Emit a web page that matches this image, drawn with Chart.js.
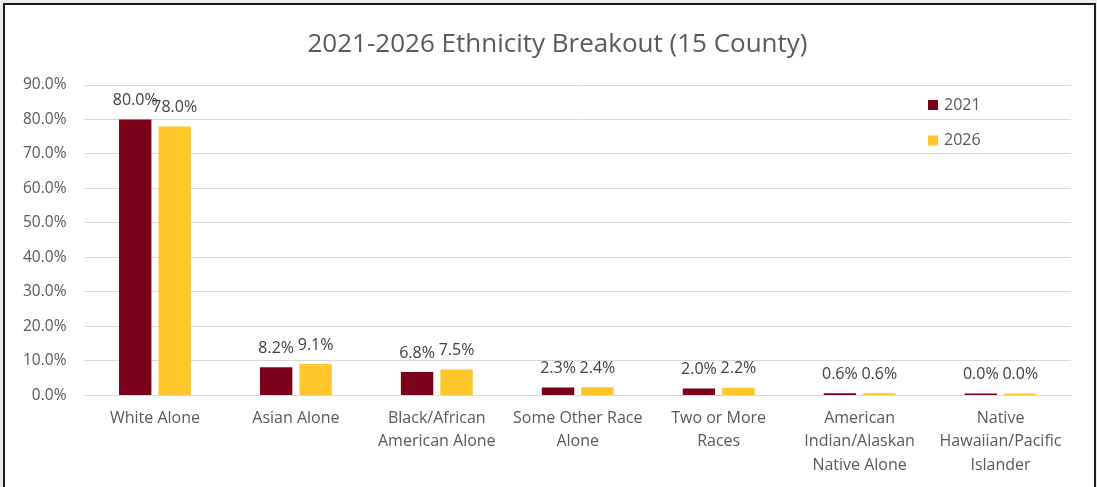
<!DOCTYPE html>
<html>
<head>
<meta charset="utf-8">
<script src="https://cdn.jsdelivr.net/npm/chart.js@4.4.1/dist/chart.umd.min.js"></script>
<style>
    html, body {
        margin: 0;
        padding: 0;
        background: #ececec;
        overflow: hidden;
    }
    .frame {
        position: absolute;
        left: 3px;
        top: 3px;
        width: 1089px;
        height: 486px;
        border: 2px solid #1b1b1b;
        border-bottom: none;
        background: #fff;
    }
    .frame canvas {
        display: block;
    }
</style>
</head>
<body>
<div class="frame">
    <canvas id="ethnicity" width="1089" height="486"></canvas>
</div>
<script>
const categories = [
    'White Alone',
    'Asian Alone',
    ['Black/African', 'American Alone'],
    ['Some Other Race', 'Alone'],
    ['Two or More', 'Races'],
    ['American', 'Indian/Alaskan', 'Native Alone'],
    ['Native', 'Hawaiian/Pacific', 'Islander']
];
const values2021 = [80.0, 8.2, 6.8, 2.3, 2.0, 0.6, 0.0];
const values2026 = [78.0, 9.1, 7.5, 2.4, 2.2, 0.6, 0.0];
const yTicks = [0, 10, 20, 30, 40, 50, 60, 70, 80, 90];

const chartTitle = '2021-2026 Ethnicity Breakout (15 County)';
const textColor = '#595959';
const fontFamily = "'Open Sans', 'Noto Sans', sans-serif";

// title is drawn by hand so it can sit a bit right of the plot centre, like the original
const titlePlugin = {
    id: 'titlePlugin',
    afterDraw(chart) {
        const ctx = chart.ctx;
        ctx.save();
        ctx.font = '26px ' + fontFamily;
        ctx.fillStyle = textColor;
        ctx.textAlign = 'center';
        ctx.textBaseline = 'middle';
        ctx.fillText(chartTitle, chart.width / 2 + 8, 40);
        ctx.restore();
    }
};

// value labels above each bar
const barLabels = {
    id: 'barLabels',
    afterDatasetsDraw(chart) {
        const ctx = chart.ctx;
        ctx.save();
        ctx.font = '16px ' + fontFamily;
        ctx.fillStyle = '#404040';
        ctx.textAlign = 'center';
        ctx.textBaseline = 'bottom';
        chart.data.datasets.forEach(function (ds, i) {
            chart.getDatasetMeta(i).data.forEach(function (bar, j) {
                ctx.fillText(ds.data[j].toFixed(1) + '%', bar.x, bar.y - 11);
            });
        });
        ctx.restore();
    }
};

// legend drawn inside the plot, top right, stacked
const innerLegend = {
    id: 'innerLegend',
    afterDraw(chart) {
        const ctx = chart.ctx;
        const area = chart.chartArea;
        ctx.save();
        ctx.font = '16px ' + fontFamily;
        ctx.textBaseline = 'middle';
        chart.data.datasets.forEach(function (ds, i) {
            const x = area.right - 143;
            const y = area.top + 20 + i * 35.5;
            ctx.fillStyle = ds.backgroundColor;
            ctx.fillRect(x, y - 5, 10, 10);
            ctx.fillStyle = textColor;
            ctx.fillText(ds.label, x + 16, y);
        });
        ctx.restore();
    }
};

const data = {
    labels: categories,
    datasets: [{
        label: '2021',
        data: values2021,
        backgroundColor: '#7b0019',
        minBarLength: 2
    }, {
        label: '2026',
        data: values2026,
        backgroundColor: '#ffc72c',
        minBarLength: 2
    }]
};

const config = {
    type: 'bar',
    data: data,
    options: {
        responsive: false,
        animation: false,
        categoryPercentage: 0.56,
        barPercentage: 0.82,
        layout: {
            padding: { left: 0, right: 23, top: 80, bottom: 3 }
        },
        plugins: {
            legend: { display: false },
            tooltip: { enabled: false },
            title: { display: false }
        },
        scales: {
            x: {
                grid: { display: false, drawTicks: false },
                border: { color: '#d9d9d9' },
                ticks: {
                    color: textColor,
                    font: { family: fontFamily, size: 16, lineHeight: 1.47 },
                    padding: 11,
                    maxRotation: 0,
                    autoSkip: false
                }
            },
            y: {
                min: 0,
                max: 90,
                afterBuildTicks(axis) {
                    axis.ticks = yTicks.map(v => ({ value: v }));
                },
                grid: { color: '#d9d9d9', drawTicks: false },
                border: { display: false },
                ticks: {
                    color: textColor,
                    font: { family: fontFamily, size: 15.5 },
                    padding: 18,
                    callback: v => v.toFixed(1) + '%'
                }
            }
        }
    },
    plugins: [barLabels, innerLegend, titlePlugin]
};

let chart = new Chart(document.getElementById('ethnicity'), config);
</script>
</body>
</html>
